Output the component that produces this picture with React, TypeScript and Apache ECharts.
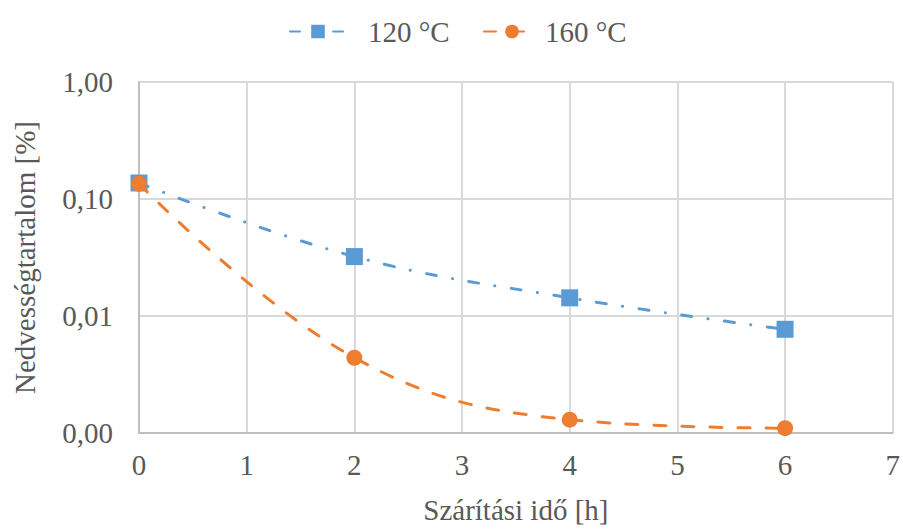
import React, { useEffect, useRef } from "react";
import * as echarts from "echarts";

const xHours = [0, 2, 4, 6];
const series120 = [0.137, 0.0322, 0.0143, 0.0077];
const series160 = [0.135, 0.0044, 0.0013, 0.0011];
const seriesNames = ["120 °C", "160 °C"];
const xTitle = "Szárítási idő [h]";
const yTitle = "Nedvességtartalom [%]";

const FONT = "'Liberation Serif', 'Times New Roman', serif";
const TEXT = "#595959";
const FS = 29;

export default function App() {
  const ref = useRef<HTMLDivElement>(null);
  useEffect(() => {
    if (!ref.current) return;
    const chart = echarts.init(ref.current, null, { renderer: "svg" });
    const mk = (ys: number[]) => xHours.map((x, i) => [x, ys[i]]);
    const legendBase = {
      top: 12,
      itemWidth: 56,
      itemHeight: 17,
      textStyle: { fontFamily: FONT, fontSize: FS, color: TEXT },
    };
    chart.setOption({
      animation: false,
      textStyle: { fontFamily: FONT },
      legend: [
        {
          ...legendBase,
          left: 284,
          data: [seriesNames[0]],
          textStyle: { ...legendBase.textStyle, padding: [0, 0, 0, 17] },
        },
        {
          ...legendBase,
          left: 478,
          data: [seriesNames[1]],
          textStyle: { ...legendBase.textStyle, padding: [0, 0, 0, 0] },
        },
      ],
      grid: { left: 139, right: 7, top: 82, bottom: 89 },
      xAxis: {
        type: "value",
        min: 0,
        max: 7,
        interval: 1,
        name: xTitle,
        nameLocation: "middle",
        nameGap: 62,
        nameTextStyle: { fontFamily: FONT, fontSize: FS, color: TEXT },
        axisLine: { show: true, lineStyle: { color: "#bfbfbf", width: 2 } },
        axisTick: { show: false },
        axisLabel: { fontFamily: FONT, fontSize: FS, color: TEXT, margin: 17 },
        splitLine: { show: true, lineStyle: { color: "#d9d9d9", width: 2 } },
      },
      yAxis: {
        type: "log",
        logBase: 10,
        min: 0.001,
        max: 1,
        name: yTitle,
        nameLocation: "middle",
        nameGap: 100,
        nameTextStyle: { fontFamily: FONT, fontSize: FS, color: TEXT },
        axisLine: { show: true, lineStyle: { color: "#bfbfbf", width: 2 } },
        axisTick: { show: false },
        axisLabel: {
          fontFamily: FONT,
          fontSize: FS,
          color: TEXT,
          margin: 26,
          formatter: (v: number) => v.toFixed(2).replace(".", ","),
        },
        splitLine: { show: true, lineStyle: { color: "#d9d9d9", width: 2 } },
      },
      series: [
        {
          name: seriesNames[0],
          type: "line",
          data: mk(series120),
          smooth: 0.4,
          symbol: "rect",
          symbolSize: 17,
          itemStyle: { color: "#5b9bd5" },
          lineStyle: { color: "#5b9bd5", width: 3, type: [10, 16.5, 0.1, 16.5], cap: "round" },
          z: 2,
        },
        {
          name: seriesNames[1],
          type: "line",
          data: mk(series160),
          smooth: 0.4,
          symbol: "circle",
          symbolSize: 16,
          itemStyle: { color: "#ed7d31" },
          lineStyle: { color: "#ed7d31", width: 3, type: [12, 16], cap: "round" },
          z: 3,
        },
      ],
    });
    return () => chart.dispose();
  }, []);
  return <div ref={ref} style={{ width: 903, height: 529, position: "absolute", left: 0, top: 0 }} />;
}
